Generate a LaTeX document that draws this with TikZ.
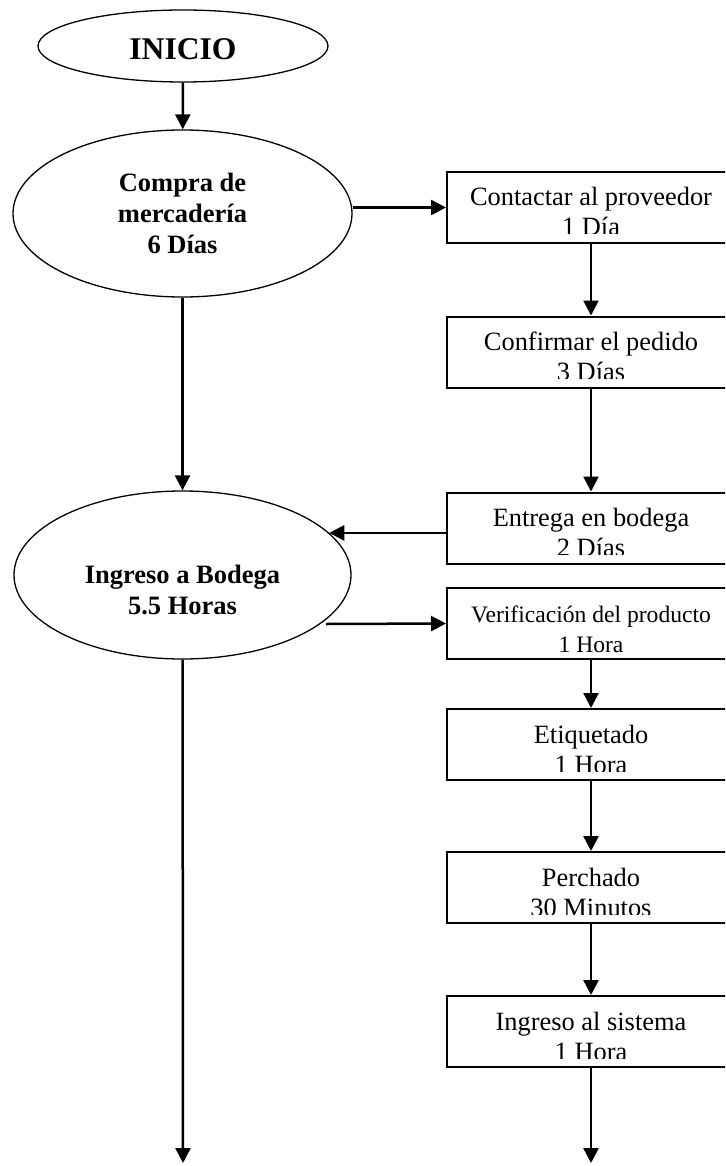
\documentclass[tikz,border=0pt]{standalone}
\usepackage{fontspec}
\setmainfont{Liberation Serif}
\usetikzlibrary{arrows.meta,shapes.geometric}

\tikzset{
  ell/.style={draw, ellipse, line width=1.3pt, inner sep=0pt},
  stage/.style={draw, rectangle, line width=2pt, minimum width=330pt,
                minimum height=71pt, inner sep=0pt},
  elltext/.style={font=\bfseries\fontsize{26.5}{31}\selectfont, align=center, inner sep=0pt},
  stagetext/.style={inner sep=0pt, anchor=base},
  arr/.style={line width=2.5pt, -{Triangle[length=15pt,width=15pt]}},
}

% the right-hand column runs past the page edge; its text and arrows sit on x = 591
% #1 name, #2 centre y, #3 first line, #4 second line, #5 font size, #6 text frame inset from bottom
\newcommand{\stagebox}[6]{%
  \node[stage, anchor=west] (#1) at (446,#2) {};
  \coordinate (#1c) at (591,#2);
  \begin{scope}
    \clip (#1.north west) rectangle ([yshift=#6]#1.south east);
    \node[stagetext] at ([yshift=-35pt]#1c |- #1.north) {\fontsize{#5}{30}\selectfont #3};
    \node[stagetext] at ([yshift=-65pt]#1c |- #1.north) {\fontsize{#5}{30}\selectfont #4};
  \end{scope}
}

\begin{document}
\begin{tikzpicture}[x=1pt, y=-1pt]
  \useasboundingbox (0,0) rectangle (725,1166);
  \clip (0,0) rectangle (725,1166);

  % main column
  \node[ell, minimum width=290pt, minimum height=72pt,
        font=\bfseries\fontsize{31.6}{36}\selectfont,
        text height=27pt, text depth=0pt] (inicio) at (183,46) {INICIO};
  \node[ell, minimum width=339pt, minimum height=167pt, elltext] (compra) at (182.5,213.5)
       {Compra de\\mercadería\\6 Días};
  \node[ell, minimum width=337pt, minimum height=168pt] (ing) at (182.5,575) {};
  \node[elltext] (ingtxt) at ([yshift=-15pt]ing.center) {Ingreso a Bodega\\5.5 Horas};

  % activity boxes
  \stagebox{b1}{207.5}{Contactar al proveedor}{1 Día}{26.4}{10pt}
  \stagebox{b2}{352}{Confirmar el pedido}{3 Días}{26.4}{10pt}
  \stagebox{b3}{528}{Entrega en bodega}{2 Días}{26.4}{10pt}
  \stagebox{b4}{623.5}{Verificación del producto}{1 Hora}{23.6}{0pt}
  \stagebox{b5}{744.5}{Etiquetado}{1 Hora}{26.4}{10pt}
  \stagebox{b6}{887.5}{Perchado}{30 Minutos}{26.4}{10pt}
  \stagebox{b7}{1031.5}{Ingreso al sistema}{1 Hora}{26.4}{10pt}

  \coordinate (ingout) at (326,624);
  \coordinate (endL) at (183,1163);
  \coordinate (endR) at (591,1163);

  % connectors
  \draw[arr] (inicio) -- (compra);
  \draw[arr] (compra.east |- b1.west) -- (b1.west);
  \draw[arr] (b1c |- b1.south) -- (b2c |- b2.north);
  \draw[arr] (b2c |- b2.south) -- (b3c |- b3.north);
  \draw[arr] (b3.west |- ing.16) -- (ing.16);
  \draw[arr] (compra) -- (ing);
  \draw[arr] (ingout) -- (b4.west);
  \draw[arr] (b4c |- b4.south) -- (b5c |- b5.north);
  \draw[arr] (b5c |- b5.south) -- (b6c |- b6.north);
  \draw[arr] (b6c |- b6.south) -- (b7c |- b7.north);
  \draw[arr] (b7c |- b7.south) -- (endR);
  \draw[arr] (ing) -- (endL);
\end{tikzpicture}
\end{document}
